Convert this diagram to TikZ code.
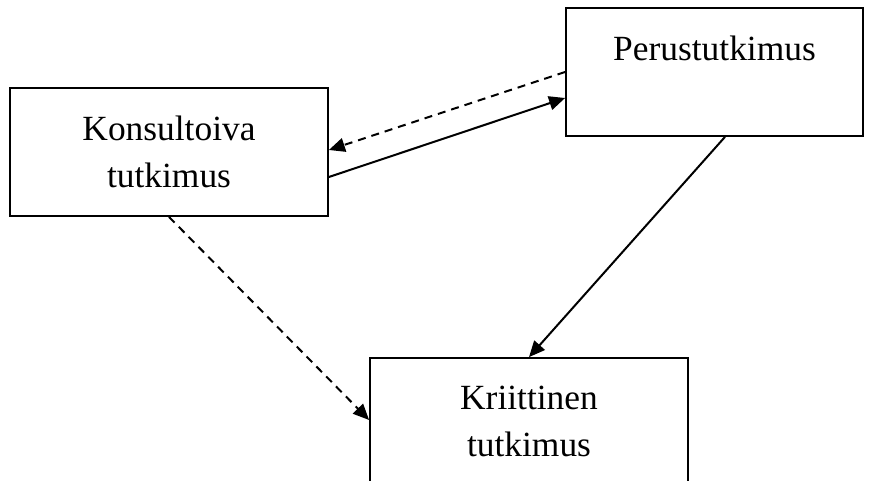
\documentclass[tikz,border=0pt]{standalone}
\usepackage{fontspec}
\setmainfont{Liberation Serif}
\usetikzlibrary{arrows.meta}

\begin{document}
\begin{tikzpicture}[line join=miter,>={Triangle[length=8pt,width=7pt]},x=0.5pt,y=-0.5pt,
	laatikko/.style={draw,line width=.9pt,align=center,inner sep=0pt,font=\fontsize{17.7}{23.5}\selectfont},
	yhteys/.style={line width=1pt,->},
	katko/.style={yhteys,dash pattern=on 4pt off 3pt}]
			\clip (0,0) rectangle (874,481);
			%laatikot
			\node[laatikko,minimum width=159pt,minimum height=64pt] (konsult) at (169,152) {Konsultoiva\\tutkimus};
			\node[laatikko,minimum width=148.5pt,minimum height=64pt] (perus) at (714.5,72) {Perustutkimus\\\mbox{}};
			\node[laatikko,minimum width=159pt,minimum height=63.5pt] (kriit) at (529,421.5) {Kriittinen\\tutkimus};
			%nuolet
			\draw[katko] (perus.west) -- ([yshift=1pt]konsult.east);
			\draw[yhteys] ([yshift=-12.5pt]konsult.east) -- ([yshift=-13pt]perus.west);
			\draw[yhteys] ([xshift=5.25pt]perus.south) -- (kriit.north);
			\draw[katko] (konsult.south) -- ([yshift=.75pt]kriit.west);
\end{tikzpicture}
\end{document}
